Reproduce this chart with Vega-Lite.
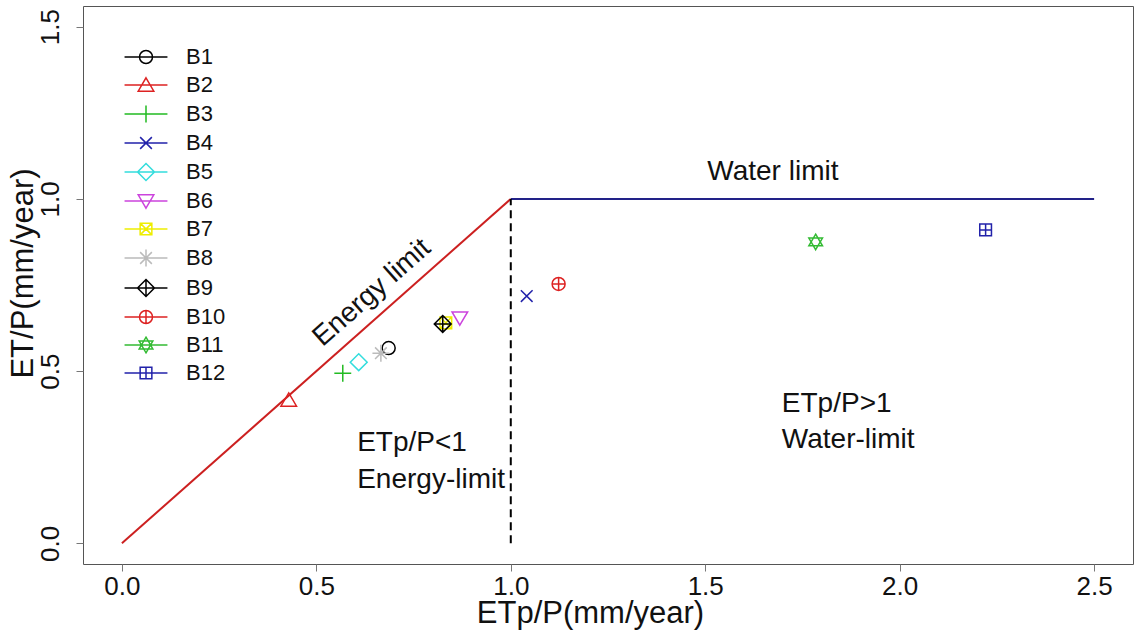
{
  "$schema": "https://vega.github.io/schema/vega-lite/v6.json",
  "width": 1050,
  "height": 558,
  "autosize": {"type": "none"},
  "padding": {"left": 83, "top": 6, "right": 6, "bottom": 67},
  "background": "white",
  "config": {
    "view": {"stroke": "#555555", "strokeWidth": 1},
    "font": "Liberation Sans",
    "axis": {"grid": false, "domain": false, "tickColor": "#777777", "tickSize": 7, "labelFont": "Liberation Sans", "titleFont": "Liberation Sans", "labelColor": "#111111", "titleColor": "#111111", "titleFontWeight": "normal"}
  },
  "datasets": {
    "pts": [
      {"basin": "B1", "etp": 0.686, "et": 0.567},
      {"basin": "B2", "etp": 0.429, "et": 0.416},
      {"basin": "B3", "etp": 0.568, "et": 0.494},
      {"basin": "B4", "etp": 1.041, "et": 0.718},
      {"basin": "B5", "etp": 0.609, "et": 0.526},
      {"basin": "B6", "etp": 0.869, "et": 0.654},
      {"basin": "B7", "etp": 0.833, "et": 0.640},
      {"basin": "B8", "etp": 0.666, "et": 0.552},
      {"basin": "B9", "etp": 0.825, "et": 0.637},
      {"basin": "B10", "etp": 1.123, "et": 0.753},
      {"basin": "B11", "etp": 1.784, "et": 0.875},
      {"basin": "B12", "etp": 2.221, "et": 0.910}
    ]
  },
  "resolve": {"scale": {"color": "independent", "shape": "independent"}, "legend": {"color": "independent", "shape": "independent"}},
  "layer": [
    {
      "data": {"values": [{"x": 0, "y": 0}, {"x": 1, "y": 1}]},
      "mark": {"type": "line", "color": "#CC2020", "strokeWidth": 2},
      "encoding": {
        "x": {"field": "x", "type": "quantitative", "scale": {"domain": [-0.1, 2.6], "nice": false, "zero": false},
          "axis": {"values": [0, 0.5, 1, 1.5, 2, 2.5], "format": ".1f", "labelFontSize": 26, "labelPadding": 2, "title": "ETp/P(mm/year)", "titleFontSize": 31, "titleX": 507, "titleY": 49, "titleBaseline": "middle", "titleAlign": "center"}},
        "y": {"field": "y", "type": "quantitative", "scale": {"domain": [-0.06, 1.56], "nice": false, "zero": false},
          "axis": {"values": [0, 0.5, 1, 1.5], "format": ".1f", "labelFontSize": 26, "labelAngle": 270, "labelPadding": 13, "title": "ET/P(mm/year)", "titleFontSize": 31, "titleX": -60, "titleY": 267, "titleBaseline": "middle", "titleAlign": "center", "titleAngle": 270}}
      }
    },
    {
      "data": {"values": [{"x": 1, "y": 1}, {"x": 2.5, "y": 1}]},
      "mark": {"type": "line", "color": "#222288", "strokeWidth": 2},
      "encoding": {"x": {"field": "x", "type": "quantitative"}, "y": {"field": "y", "type": "quantitative"}}
    },
    {
      "data": {"values": [{"x": 1, "y": 0}, {"x": 1, "y": 1}]},
      "mark": {"type": "line", "color": "#000000", "strokeWidth": 2, "strokeDash": [8, 5]},
      "encoding": {"x": {"field": "x", "type": "quantitative"}, "y": {"field": "y", "type": "quantitative"}}
    },
    {
      "data": {"name": "pts"},
      "mark": {"type": "point", "filled": false, "size": 169, "strokeWidth": 1.5, "opacity": 1},
      "encoding": {
        "x": {"field": "etp", "type": "quantitative"},
        "y": {"field": "et", "type": "quantitative"},
        "color": {"field": "basin", "type": "nominal",
          "scale": {"domain": ["B1","B2","B3","B4","B5","B6","B7","B8","B9","B10","B11","B12"],
            "range": ["#000000","#DD2222","#22BB22","#2222AA","#33DDDD","#CC44DD","#EEEE00","#BBBBBB","#000000","#DD2222","#33BB33","#2222AA"]},
          "legend": null},
        "shape": {"field": "basin", "type": "nominal",
          "scale": {"domain": ["B1","B2","B3","B4","B5","B6","B7","B8","B9","B10","B11","B12"],
            "range": [
              "M1,0A1,1,0,1,1,-1,0A1,1,0,1,1,1,0Z",
              "M0,-1.1L1.2,0.95L-1.2,0.95Z",
              "M-1.3,0H1.3M0,-1.3V1.3",
              "M-0.9,-0.9L0.9,0.9M-0.9,0.9L0.9,-0.9",
              "M0,-1.3L1.3,0L0,1.3L-1.3,0Z",
              "M0,1.1L1.2,-0.95L-1.2,-0.95Z",
              "M-0.9,-0.9H0.9V0.9H-0.9ZM-0.9,-0.9L0.9,0.9M-0.9,0.9L0.9,-0.9",
              "M-1.3,0H1.3M0,-1.3V1.3M-0.9,-0.9L0.9,0.9M-0.9,0.9L0.9,-0.9",
              "M0,-1.3L1.3,0L0,1.3L-1.3,0ZM-1.3,0H1.3M0,-1.3V1.3",
              "M1,0A1,1,0,1,1,-1,0A1,1,0,1,1,1,0ZM-1,0H1M0,-1V1",
              "M0,-1.2L1.05,0.6L-1.05,0.6ZM0,1.2L1.05,-0.6L-1.05,-0.6Z",
              "M-0.9,-0.9H0.9V0.9H-0.9ZM-0.9,0H0.9M0,-0.9V0.9"
            ]},
          "legend": null}
      }
    },
    {
      "data": {"name": "pts"},
      "mark": {"type": "point", "filled": false, "size": 169, "strokeWidth": 1.5, "opacity": 0},
      "encoding": {
        "x": {"field": "etp", "type": "quantitative"},
        "y": {"field": "et", "type": "quantitative"},
        "color": {"field": "basin", "type": "nominal",
          "scale": {"domain": ["B1","B2","B3","B4","B5","B6","B7","B8","B9","B10","B11","B12"],
            "range": ["#000000","#DD2222","#22BB22","#2222AA","#33DDDD","#CC44DD","#EEEE00","#BBBBBB","#000000","#DD2222","#33BB33","#2222AA"]},
          "legend": {"orient": "none", "legendX": 52, "legendY": 40, "title": null, "padding": 0, "labelFontSize": 22, "labelFont": "Liberation Sans", "labelColor": "#111111", "labelOffset": 29, "symbolSize": 169, "symbolStrokeWidth": 1.5, "symbolOpacity": 1, "rowPadding": 6}},
        "shape": {"field": "basin", "type": "nominal",
          "scale": {"domain": ["B1","B2","B3","B4","B5","B6","B7","B8","B9","B10","B11","B12"],
            "range": [
              "M-3.3,0H3.3M1,0A1,1,0,1,1,-1,0A1,1,0,1,1,1,0Z",
              "M-3.3,0H3.3M0,-1.1L1.2,0.95L-1.2,0.95Z",
              "M-3.3,0H3.3M-1.3,0H1.3M0,-1.3V1.3",
              "M-3.3,0H3.3M-0.9,-0.9L0.9,0.9M-0.9,0.9L0.9,-0.9",
              "M-3.3,0H3.3M0,-1.3L1.3,0L0,1.3L-1.3,0Z",
              "M-3.3,0H3.3M0,1.1L1.2,-0.95L-1.2,-0.95Z",
              "M-3.3,0H3.3M-0.9,-0.9H0.9V0.9H-0.9ZM-0.9,-0.9L0.9,0.9M-0.9,0.9L0.9,-0.9",
              "M-3.3,0H3.3M-1.3,0H1.3M0,-1.3V1.3M-0.9,-0.9L0.9,0.9M-0.9,0.9L0.9,-0.9",
              "M-3.3,0H3.3M0,-1.3L1.3,0L0,1.3L-1.3,0ZM-1.3,0H1.3M0,-1.3V1.3",
              "M-3.3,0H3.3M1,0A1,1,0,1,1,-1,0A1,1,0,1,1,1,0ZM-1,0H1M0,-1V1",
              "M-3.3,0H3.3M0,-1.2L1.05,0.6L-1.05,0.6ZM0,1.2L1.05,-0.6L-1.05,-0.6Z",
              "M-3.3,0H3.3M-0.9,-0.9H0.9V0.9H-0.9ZM-0.9,0H0.9M0,-0.9V0.9"
            ]},
          "legend": {"orient": "none", "legendX": 52, "legendY": 40, "title": null, "padding": 0, "labelFontSize": 22, "labelFont": "Liberation Sans", "labelColor": "#111111", "labelOffset": 29, "symbolSize": 169, "symbolStrokeWidth": 1.5, "symbolOpacity": 1, "rowPadding": 6}}
      }
    },
    {
      "data": {"values": [{"x": 0.643, "y": 0.727, "label": "Energy limit"}]},
      "mark": {"type": "text", "angle": 318.5, "fontSize": 28, "font": "Liberation Sans", "align": "center", "baseline": "middle", "color": "#111111"},
      "encoding": {"x": {"field": "x", "type": "quantitative"}, "y": {"field": "y", "type": "quantitative"}, "text": {"field": "label"}}
    },
    {
      "data": {"values": [{"x": 1.674, "y": 1.078, "label": "Water limit"}]},
      "mark": {"type": "text", "fontSize": 28, "font": "Liberation Sans", "align": "center", "baseline": "middle", "color": "#111111"},
      "encoding": {"x": {"field": "x", "type": "quantitative"}, "y": {"field": "y", "type": "quantitative"}, "text": {"field": "label"}}
    },
    {
      "data": {"values": [
        {"x": 0.605, "y": 0.291, "label": "ETp/P<1"},
        {"x": 0.605, "y": 0.184, "label": "Energy-limit"},
        {"x": 1.697, "y": 0.404, "label": "ETp/P>1"},
        {"x": 1.697, "y": 0.300, "label": "Water-limit"}
      ]},
      "mark": {"type": "text", "fontSize": 28, "font": "Liberation Sans", "align": "left", "baseline": "middle", "color": "#111111"},
      "encoding": {"x": {"field": "x", "type": "quantitative"}, "y": {"field": "y", "type": "quantitative"}, "text": {"field": "label"}}
    }
  ]
}
